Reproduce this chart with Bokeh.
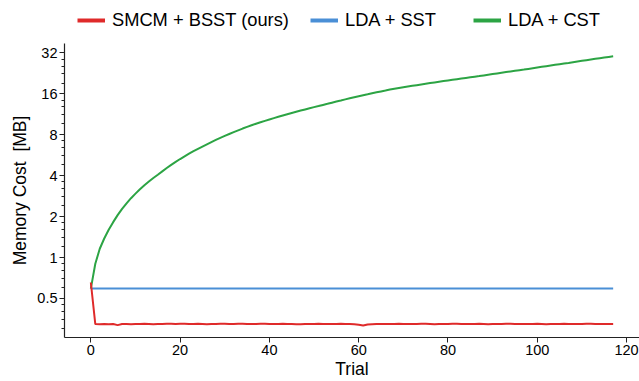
from bokeh.plotting import figure
from bokeh.layouts import column
from bokeh.models import ColumnDataSource, FixedTicker, NumeralTickFormatter, Legend, LegendItem
from bokeh.embed import file_html
from bokeh.resources import INLINE

trials = list(range(118))

smcm_bsst = [0.655, 0.324, 0.323, 0.324, 0.323, 0.324, 0.318, 0.324, 0.324, 0.323,
             0.324, 0.324, 0.325, 0.324, 0.323, 0.324, 0.324, 0.325, 0.325, 0.324,
             0.325, 0.325, 0.324, 0.324, 0.325, 0.324, 0.323, 0.324, 0.324, 0.325,
             0.325, 0.324, 0.324, 0.325, 0.325, 0.324, 0.324, 0.324, 0.325, 0.325,
             0.324, 0.324, 0.324, 0.325, 0.324, 0.324, 0.323, 0.323, 0.324, 0.324,
             0.324, 0.325, 0.324, 0.324, 0.324, 0.324, 0.325, 0.324, 0.324, 0.323,
             0.320, 0.316, 0.322, 0.323, 0.324, 0.324, 0.324, 0.324, 0.324, 0.325,
             0.324, 0.324, 0.324, 0.324, 0.325, 0.325, 0.324, 0.323, 0.324, 0.324,
             0.324, 0.325, 0.325, 0.324, 0.324, 0.324, 0.324, 0.325, 0.324, 0.323,
             0.324, 0.324, 0.324, 0.325, 0.325, 0.324, 0.324, 0.324, 0.324, 0.324,
             0.325, 0.324, 0.323, 0.324, 0.324, 0.324, 0.325, 0.324, 0.324, 0.324,
             0.324, 0.325, 0.325, 0.324, 0.324, 0.324, 0.324, 0.324]

lda_sst = [0.592] * 118

lda_cst = [0.59, 0.90, 1.16, 1.38, 1.60, 1.82, 2.05, 2.28, 2.50, 2.73,
           2.95, 3.18, 3.40, 3.62, 3.84, 4.06, 4.30, 4.55, 4.80, 5.05,
           5.30, 5.55, 5.80, 6.05, 6.30, 6.55, 6.80, 7.06, 7.32, 7.58,
           7.84, 8.10, 8.36, 8.62, 8.88, 9.14, 9.40, 9.64, 9.88, 10.12,
           10.36, 10.60, 10.84, 11.08, 11.32, 11.56, 11.80, 12.04, 12.28, 12.52,
           12.76, 13.00, 13.25, 13.50, 13.76, 14.02, 14.28, 14.55, 14.82, 15.08,
           15.34, 15.60, 15.86, 16.14, 16.40, 16.66, 16.92, 17.20, 17.42, 17.64,
           17.86, 18.08, 18.30, 18.52, 18.74, 18.96, 19.18, 19.40, 19.62, 19.84,
           20.06, 20.28, 20.50, 20.72, 20.94, 21.16, 21.38, 21.60, 21.85, 22.10,
           22.35, 22.60, 22.85, 23.10, 23.35, 23.60, 23.85, 24.10, 24.39, 24.68,
           24.97, 25.26, 25.55, 25.84, 26.13, 26.42, 26.71, 27.00, 27.32, 27.64,
           27.96, 28.28, 28.60, 28.92, 29.24, 29.56, 29.88, 30.20]

series_names = ["SMCM + BSST (ours)", "LDA + SST", "LDA + CST"]
series_colors = ["#df2a2a", "#4a8fd6", "#2ca444"]

y_major = [0.5, 1, 2, 4, 8, 16, 32]
x_major = [0, 20, 40, 60, 80, 100, 120]

FONT = "Liberation Sans"

# ---- legend strip (top) ----
lf = figure(width=639, height=43, x_range=(0, 575), y_range=(0, 43),
            output_backend="svg", toolbar_location=None,
            min_border=0, min_border_left=64, min_border_right=0,
            min_border_top=0, min_border_bottom=0)
lf.axis.visible = False
lf.grid.visible = False
lf.outline_line_color = None
lf.border_fill_color = "white"
lf.background_fill_color = "white"
nan_src = ColumnDataSource(dict(x=[float("nan")], y=[float("nan")]))
leg_r = [lf.line("x", "y", source=nan_src, line_color=c, line_width=4) for c in series_colors]
leg_x = [13, 246, 409]
for r, name, lx in zip(leg_r, series_names, leg_x):
    lg = Legend(items=[LegendItem(label=name, renderers=[r])], location=(lx, 12),
                orientation="horizontal", padding=0, margin=0, spacing=0,
                border_line_color=None, background_fill_alpha=0,
                glyph_width=28, glyph_height=18, label_height=18, label_standoff=7,
                label_text_font=FONT, label_text_font_size="18.3px",
                label_text_color="black")
    lf.add_layout(lg, "center")

# ---- main plot ----
p = figure(width=639, height=338, y_axis_type="log",
           x_range=(-5.9, 122.9), y_range=(0.258, 37.5),
           output_backend="svg", toolbar_location=None,
           min_border_left=64, min_border_right=0,
           min_border_top=0, min_border_bottom=40)
p.outline_line_color = None
p.xgrid.visible = False
p.ygrid.visible = False
p.background_fill_color = "white"
p.border_fill_color = "white"

src = ColumnDataSource(dict(t=trials, a=smcm_bsst, b=lda_sst, c=lda_cst))
for col, color in zip(["c", "b", "a"], [series_colors[2], series_colors[1], series_colors[0]]):
    p.line("t", col, source=src, line_color=color, line_width=2)

minor = []
for b in [0.25] + y_major:
    for k in range(1, 5):
        minor.append(b * (1 + k / 5))

p.yaxis.ticker = FixedTicker(ticks=y_major, minor_ticks=minor)
p.yaxis.formatter = NumeralTickFormatter(format="0.[0]")
p.xaxis.ticker = FixedTicker(ticks=x_major, minor_ticks=[])

for ax in [p.xaxis[0], p.yaxis[0]]:
    ax.axis_line_color = "#222222"
    ax.axis_line_width = 1.2
    ax.major_tick_line_color = "#222222"
    ax.minor_tick_line_color = "#222222"
    ax.major_tick_in = 0
    ax.major_tick_out = 5
    ax.minor_tick_in = 0
    ax.minor_tick_out = 3
    ax.major_label_text_font = FONT
    ax.major_label_text_font_size = "14.5px"
    ax.major_label_text_color = "black"
    ax.axis_label_text_font = FONT
    ax.axis_label_text_font_size = "17.5px"
    ax.axis_label_text_font_style = "normal"
    ax.axis_label_text_color = "black"
    ax.major_label_standoff = 2
    ax.axis_label_standoff = 1

p.yaxis.axis_label_standoff = 4
p.xaxis.axis_label = "Trial"
p.yaxis.axis_label = "Memory Cost\u00a0 [MB]"

layout = column(lf, p, spacing=0)
open("out.html", "w").write(file_html(layout, INLINE))
